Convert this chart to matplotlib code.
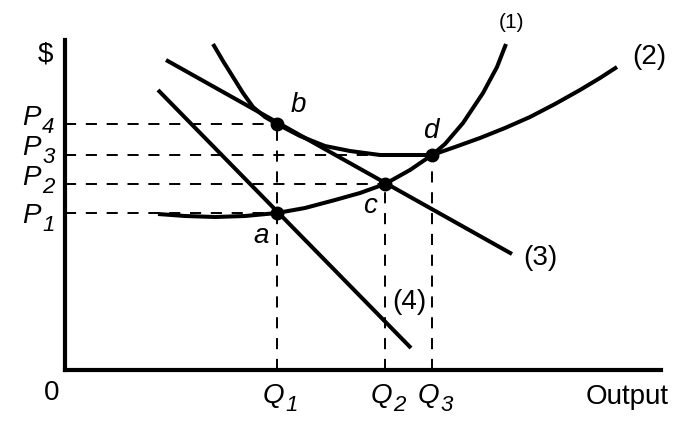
import matplotlib
matplotlib.use("Agg")
import matplotlib.pyplot as plt

plt.rcParams['font.family'] = ['Liberation Sans', 'DejaVu Sans']
plt.rcParams['lines.scale_dashes'] = False

# ---- data (output on x, $ on y; origin at the axes corner) ----
q_names = ['Q', 'Q', 'Q']
q_subs = ['1', '2', '3']
q_values = [212, 320, 367]
p_names = ['P', 'P', 'P', 'P']
p_subs = ['1', '2', '3', '4']
p_values = [157, 186, 215, 246]

curve1_x = [148, 158, 168, 178, 188, 200, 212, 235, 260, 285, 315, 345, 367, 380, 398, 418, 432, 441]
curve1_y = [326, 309, 293, 277, 263, 253, 246, 234, 224, 219, 215, 215, 215, 226, 247, 277, 303, 326]

curve2_x = [93, 120, 150, 180, 212, 240, 270, 295, 320, 345, 367, 390, 415, 440, 465, 490, 515, 535, 552]
curve2_y = [156, 154, 153, 154, 157, 162, 170, 177, 186, 200, 215, 223, 232, 242, 253, 266, 280, 292, 303]

line3_x = [101, 447]
line3_y = [310, 116]
line4_x = [93, 346]
line4_y = [280, 22]

points_x = [212, 212, 320, 367]
points_y = [157, 246, 186, 215]
point_names = ['a', 'b', 'c', 'd']

# ---- figure ----
fig = plt.figure(figsize=(6.93, 4.23), dpi=100)
ax = fig.add_axes([65/693, 53/423, 596/693, 330/423])
ax.set_xlim(0, 596)
ax.set_ylim(0, 330)
for s in ['top', 'right']:
    ax.spines[s].set_visible(False)
for s in ['left', 'bottom']:
    ax.spines[s].set_linewidth(3.0)
    ax.spines[s].set_capstyle('projecting')
ax.set_xticks([])
ax.set_yticks([])

lw = 2.9
dash = dict(color='black', lw=1.4, linestyle=(0, (8, 7)))

# dashed guides
ax.plot([0, points_x[1]], [p_values[3]] * 2, **dash)
ax.plot([0, points_x[3]], [p_values[2]] * 2, **dash)
ax.plot([0, points_x[2]], [p_values[1]] * 2, **dash)
ax.plot([0, points_x[0]], [p_values[0]] * 2, **dash)
ax.plot([q_values[0]] * 2, [0, p_values[3]], **dash)
ax.plot([q_values[1]] * 2, [0, p_values[1]], **dash)
ax.plot([q_values[2]] * 2, [0, p_values[2]], **dash)

kw = dict(color='black', lw=lw, solid_joinstyle='round', solid_capstyle='butt')
ax.plot(curve1_x, curve1_y, **kw)
ax.plot(curve2_x, curve2_y, **kw)
ax.plot(line3_x, line3_y, **kw)
ax.plot(line4_x, line4_y, **kw)

ax.plot(points_x, points_y, 'o', color='black', markersize=9, zorder=5)

fs = 20
sfs = 16
# point letters
letter_pos = {'a': (196, 134), 'b': (233, 265), 'c': (305, 164), 'd': (366, 239)}
for n in point_names:
    x, y = letter_pos[n]
    ax.text(x, y, n, fontsize=fs, style='italic', ha='center', va='center')

# curve labels
ax.text(446, 347, '(1)', fontsize=15, ha='center', va='center', clip_on=False)
ax.text(584, 313, '(2)', fontsize=fs, ha='center', va='center', clip_on=False)
ax.text(475, 112, '(3)', fontsize=fs, ha='center', va='center')
ax.text(344, 68, '(4)', fontsize=fs, ha='center', va='center')

# axis labels
ax.text(-20, 316, '$', fontsize=fs, ha='center', va='center', clip_on=False)
ax.text(-13, -23, '0', fontsize=fs, ha='center', va='center', clip_on=False)
ax.text(562, -34, 'Output', fontsize=fs, ha='center', va='baseline', clip_on=False)

p_base = [-10, -1, 0, -1]
for nm, sub, v, off in zip(p_names, p_subs, p_values, p_base):
    ax.text(-24, v + off, nm, fontsize=fs, style='italic', ha='right', va='baseline', clip_on=False)
    ax.text(-23, v + off - 8, sub, fontsize=sfs, style='italic', ha='left', va='baseline', clip_on=False)
q_dx = [8, 8, 8]
for nm, sub, v, dx in zip(q_names, q_subs, q_values, q_dx):
    ax.text(v + dx - 1, -33, nm, fontsize=fs, style='italic', ha='right', va='baseline', clip_on=False)
    ax.text(v + dx, -41, sub, fontsize=sfs, style='italic', ha='left', va='baseline', clip_on=False)

fig.savefig('out.png', dpi=100)
